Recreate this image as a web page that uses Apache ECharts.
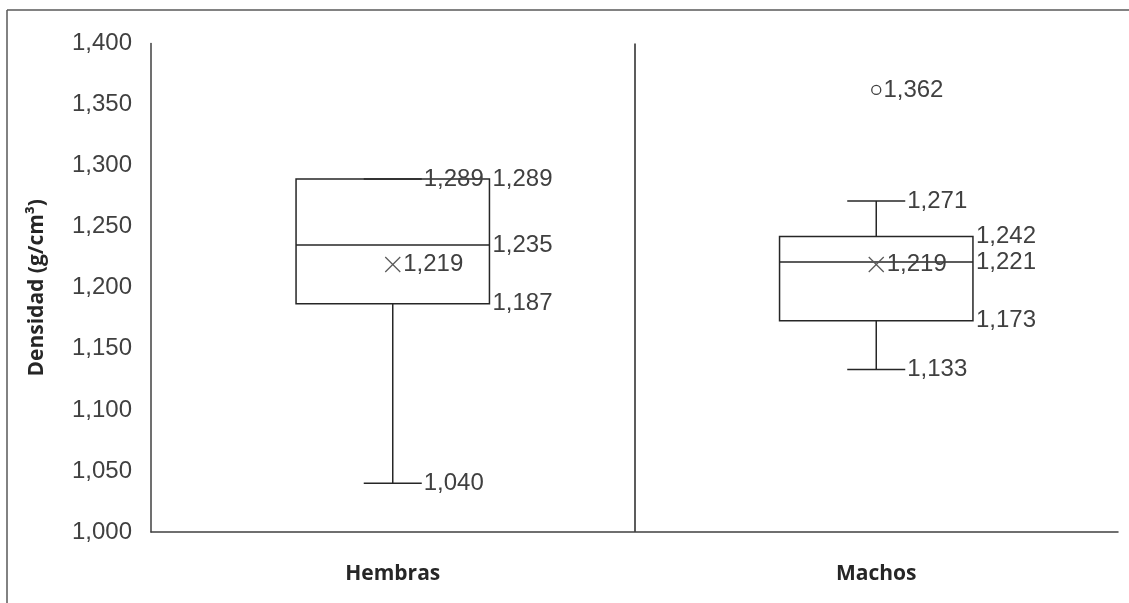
<!DOCTYPE html>
<html>
<head>
<meta charset="utf-8">
<script src="https://cdn.jsdelivr.net/npm/echarts@6/dist/echarts.min.js"></script>
<style>
html,body{margin:0;padding:0;background:#fff;}
#chart{width:1129px;height:603px;}
</style>
</head>
<body>
<div id="chart"></div>
<script>
// ---- data ----
const categories = ['Hembras', 'Machos'];
const minVals    = [1.040, 1.133];
const q1Vals     = [1.187, 1.173];
const medianVals = [1.235, 1.221];
const q3Vals     = [1.289, 1.242];
const maxVals    = [1.289, 1.271];
const meanVals   = [1.219, 1.219];
const outliers   = [[1, 1.362]];   // [category index, value]
const yTicks     = { min: 1.0, max: 1.4, interval: 0.05 };
const yTitle     = 'Densidad (g/cm³)';

const fmt = v => v.toFixed(3).replace('.', ',');

const boxData = categories.map((c, i) =>
  [i, minVals[i], q1Vals[i], medianVals[i], q3Vals[i], maxVals[i], meanVals[i]]);

const LINE = '#262626';
const TEXT = '#404040';
const NUMFAMILY = '"Liberation Sans", Arial, sans-serif';
const NUMFONT = '24px ' + NUMFAMILY;

function renderBox(params, api) {
  const idx = api.value(0);
  const vMin = api.value(1), vQ1 = api.value(2), vMed = api.value(3),
        vQ3 = api.value(4), vMax = api.value(5), vMean = api.value(6);
  const cx = api.coord([idx, vMin])[0];
  const catW = api.size([1, 0])[0];
  const bw = catW * 0.4;
  const cw = bw * 0.3;
  const y = v => api.coord([idx, v])[1];
  const yMin = y(vMin), yQ1 = y(vQ1), yMed = y(vMed), yQ3 = y(vQ3), yMax = y(vMax), yMean = y(vMean);
  const ls = { stroke: LINE, lineWidth: 1.5, fill: null };
  const L = (x1, y1, x2, y2) => ({ type: 'line', shape: { x1, y1, x2, y2 }, style: ls });
  const T = (text, x, yy) => ({ type: 'text', style: { text, x, y: yy, fill: TEXT, font: NUMFONT, align: 'left', verticalAlign: 'middle' } });
  const left = cx - bw / 2, right = cx + bw / 2;
  const m = 7.5;
  const children = [
    { type: 'rect', shape: { x: left, y: yQ3, width: bw, height: yQ1 - yQ3 }, style: { stroke: LINE, lineWidth: 1.5, fill: '#fff' } },
    L(left, yMed, right, yMed),
    L(cx, yQ3, cx, yMax),
    L(cx, yQ1, cx, yMin),
    L(cx - cw / 2, yMax, cx + cw / 2, yMax),
    L(cx - cw / 2, yMin, cx + cw / 2, yMin),
    { type: 'line', shape: { x1: cx - m, y1: yMean - m, x2: cx + m, y2: yMean + m }, style: { stroke: '#595959', lineWidth: 1.3 } },
    { type: 'line', shape: { x1: cx - m, y1: yMean + m, x2: cx + m, y2: yMean - m }, style: { stroke: '#595959', lineWidth: 1.3 } },
    T(fmt(vMin), cx + cw / 2 + 2, yMin),
    T(fmt(vMax), cx + cw / 2 + 2, yMax),
    T(fmt(vQ1), right + 3, yQ1),
    T(fmt(vMed), right + 3, yMed),
    T(fmt(vQ3), right + 3, yQ3),
    T(fmt(vMean), cx + m + 3, yMean)
  ];
  return { type: 'group', children };
}

const chart = echarts.init(document.getElementById('chart'), null, { renderer: 'canvas' });
chart.setOption({
  animation: false,
  backgroundColor: '#fff',
  graphic: [
    { type: 'line', shape: { x1: 7, y1: 10, x2: 1129, y2: 10 }, style: { stroke: '#595959', lineWidth: 1.5 }, silent: true, z: -10 },
    { type: 'line', shape: { x1: 7, y1: 10, x2: 7, y2: 603 }, style: { stroke: '#595959', lineWidth: 1.5 }, silent: true, z: -10 }
  ],
  grid: { left: 151, right: 11, top: 43.5, bottom: 71 },
  xAxis: {
    type: 'category',
    data: categories,
    boundaryGap: true,
    axisLine: { show: true, lineStyle: { color: '#404040', width: 1.5 } },
    axisTick: { show: false },
    axisLabel: { color: '#262626', fontFamily: '"Open Sans"', fontWeight: 'bold', fontSize: 21, margin: 32 },
    splitLine: { show: true, showMinLine: false, showMaxLine: false, lineStyle: { color: '#262626', width: 1.5 } }
  },
  yAxis: {
    type: 'value',
    min: yTicks.min, max: yTicks.max, interval: yTicks.interval,
    name: yTitle,
    nameLocation: 'middle',
    nameGap: 103,
    nameTextStyle: { color: '#262626', fontFamily: '"Open Sans"', fontWeight: 'bold', fontSize: 21 },
    axisLine: { show: true, lineStyle: { color: '#404040', width: 1.5 } },
    axisTick: { show: false },
    splitLine: { show: false },
    axisLabel: { color: TEXT, fontFamily: NUMFAMILY, fontSize: 24, margin: 19, formatter: v => fmt(v) }
  },
  series: [
    { type: 'custom', renderItem: renderBox, data: boxData, encode: { x: 0, y: [1, 2, 3, 4, 5] }, z: 5 },
    {
      type: 'scatter', data: outliers, symbol: 'circle', symbolSize: 9,
      itemStyle: { color: '#ffffff', borderColor: TEXT, borderWidth: 1.3, opacity: 1 },
      label: { show: true, position: 'right', distance: 2, color: TEXT, fontFamily: NUMFAMILY, fontSize: 24, formatter: p => fmt(p.value[1]) },
      z: 6
    }
  ]
});
</script>
</body>
</html>
